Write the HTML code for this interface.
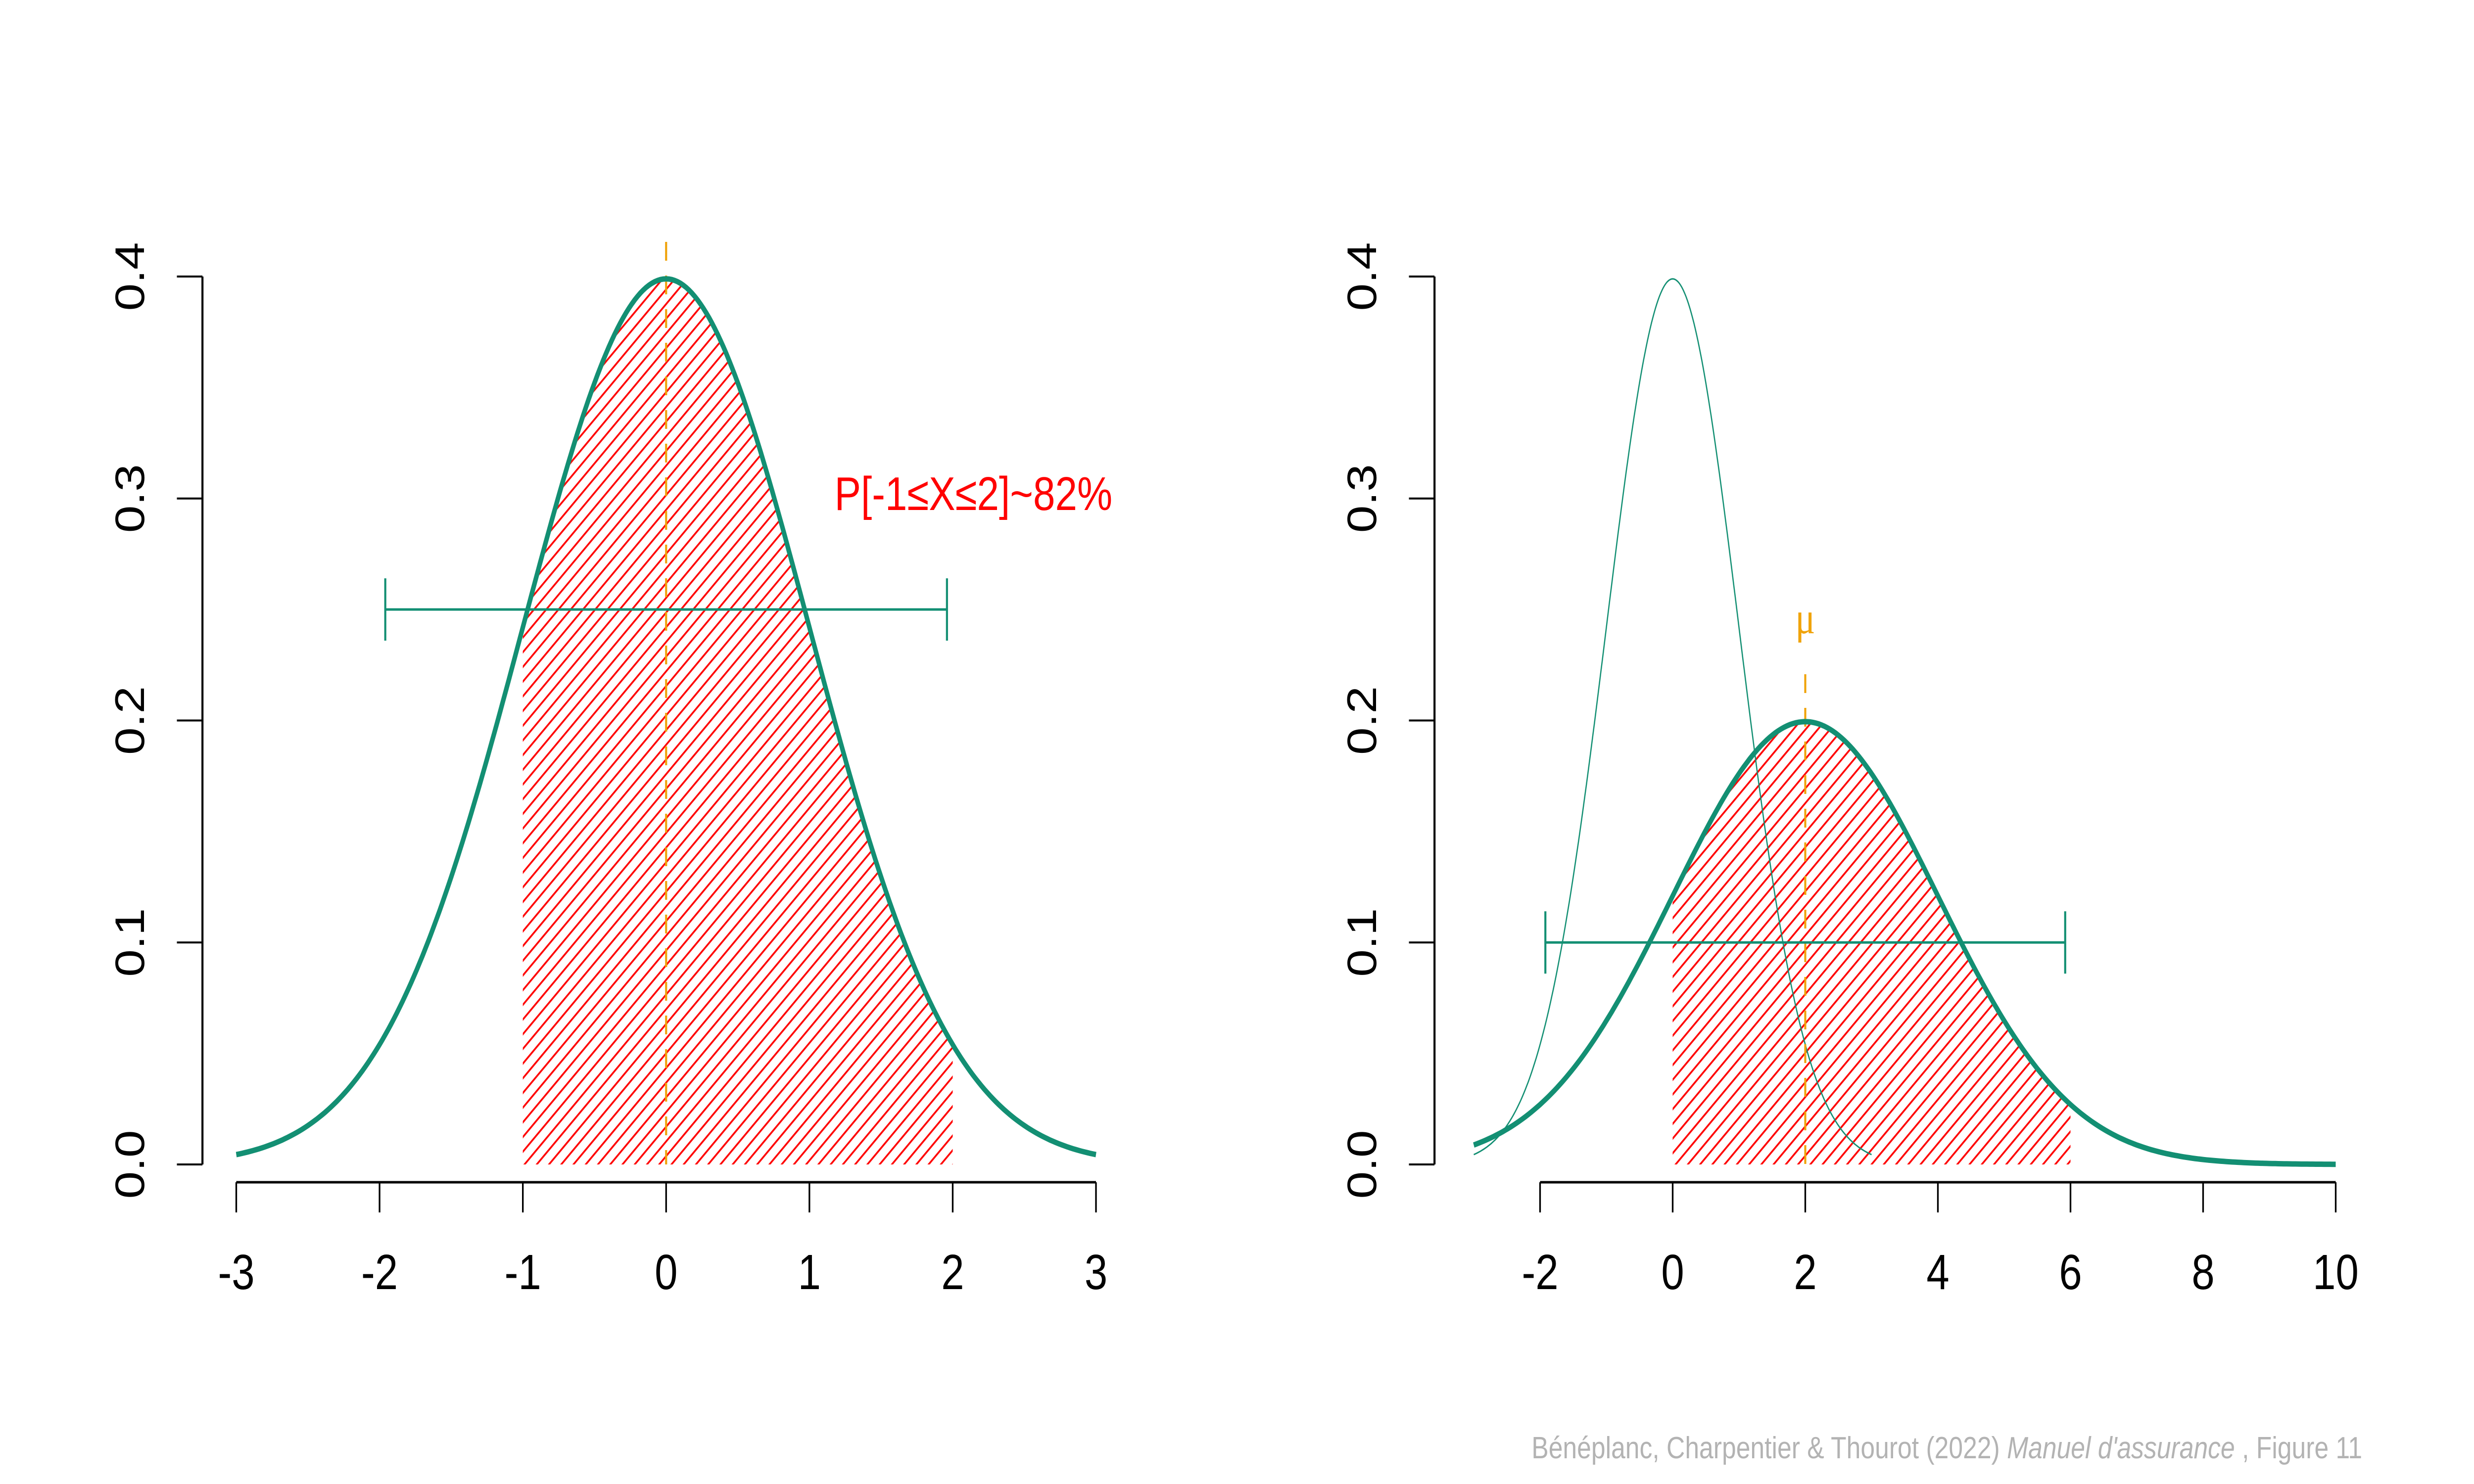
<!DOCTYPE html>
<html><head><meta charset="utf-8"><style>html,body{margin:0;padding:0;background:#fff;width:100%;height:100%;overflow:hidden}svg{display:block;width:100vw;height:100vh}</style></head>
<body>
<svg id="chart" viewBox="0 0 6000 3000" preserveAspectRatio="none" xmlns="http://www.w3.org/2000/svg" font-family="Liberation Sans, sans-serif">
<defs>
<pattern id="hatch" patternUnits="userSpaceOnUse" width="21" height="21" patternTransform="rotate(45)">
<rect width="21" height="21" fill="#fff"/>
<line x1="0" y1="0" x2="0" y2="21" stroke="#ff0000" stroke-width="8"/>
</pattern>
</defs>
<g id="left"></g>
<g id="right"></g>
<text x="5729" y="2948" text-anchor="end" font-size="62" fill="#b3b3b3">Bénéplanc, Charpentier &amp; Thourot (2022) <tspan font-style="italic">Manuel d'assurance</tspan> , Figure 11</text>
</svg>
<script>
const leftXTicks = [-3,-2,-1,0,1,2,3];
const rightXTicks = [-2,0,2,4,6,8,10];
const yTicks = [0.0,0.1,0.2,0.3,0.4];
const yTickLabels = ["0.0","0.1","0.2","0.3","0.4"];
const leftDist = [0,1];
const leftRange = [-3,3];
const leftShade = [-1,2];
const leftBar = [-1.96,1.96,0.25];
const leftProbLabel = "P[-1≤X≤2]~82%";
const rightDist = [2,2];
const rightRange = [-3,10];
const rightRef = [0,1];
const rightRefRange = [-3,3];
const rightShade = [0,6];
const rightBar = [-1.92,5.92,0.1];
const rightMu = 2;

const NS="http://www.w3.org/2000/svg";
const GREEN="#138f73", ORANGE="#f0a30a";
function mk(p,tag,attrs){const e=document.createElementNS(NS,tag);for(const k in attrs)e.setAttribute(k,attrs[k]);p.appendChild(e);return e;}
function pdf(x,mu,sd){return Math.exp(-0.5*((x-mu)/sd)**2)/(sd*Math.sqrt(2*Math.PI));}
const Y=v=>2354-(v/0.4)*(2354-559);

function curvePath(X,mu,sd,a,b){let d="";const n=300;for(let i=0;i<=n;i++){const x=a+(b-a)*i/n;d+=(i?"L":"M")+X(x).toFixed(1)+","+Y(pdf(x,mu,sd)).toFixed(1);}return d;}
function areaPath(X,mu,sd,a,b){return curvePath(X,mu,sd,a,b)+"L"+X(b)+","+Y(0)+"L"+X(a)+","+Y(0)+"Z";}

function axes(g,X,xTicks,yAxisX,xMin,xMax){
  const xa=mk(g,"g",{});
  
  
  mk(xa,"line",{x1:X(xMin),x2:X(xMax),y1:2390,y2:2390,stroke:"#000","stroke-width":5});
  xTicks.forEach(t=>{
    mk(xa,"line",{x1:X(t),x2:X(t),y1:2390,y2:2451,stroke:"#000","stroke-width":4});
    const tx=mk(xa,"text",{x:X(t),y:2606,"text-anchor":"middle","font-size":"100"});
    
    
    tx.textContent=t;
  });
  const ya=mk(g,"g",{});
  
  
  mk(ya,"line",{x1:yAxisX,x2:yAxisX,y1:Y(0),y2:Y(0.4),stroke:"#000","stroke-width":5});
  yTicks.forEach((t,i)=>{
    mk(ya,"line",{x1:yAxisX-62,x2:yAxisX,y1:Y(t),y2:Y(t),stroke:"#000","stroke-width":4});
    const tx=mk(ya,"text",{x:0,y:0,"text-anchor":"middle","font-size":"100",transform:`translate(${yAxisX-142},${Y(t)}) rotate(-90)`});
    
    
    tx.textContent=yTickLabels[i];
  });
}
function errBar(g,X,b){
  const e=mk(g,"g",{stroke:GREEN,"stroke-width":5,fill:"none"});
  
  
  mk(e,"line",{x1:X(b[0]),x2:X(b[1]),y1:Y(b[2]),y2:Y(b[2])});
  mk(e,"line",{x1:X(b[0]),x2:X(b[0]),y1:Y(b[2])-63,y2:Y(b[2])+63});
  mk(e,"line",{x1:X(b[1]),x2:X(b[1]),y1:Y(b[2])-63,y2:Y(b[2])+63});
}

// Left panel
const XL=v=>573+(v+3)*347.5;
const gl=document.getElementById("left");
axes(gl,XL,leftXTicks,491,-3,3);
let a=mk(gl,"path",{d:areaPath(XL,leftDist[0],leftDist[1],leftShade[0],leftShade[1]),fill:"url(#hatch)"});


let ml=mk(gl,"line",{x1:XL(leftDist[0]),x2:XL(leftDist[0]),y1:489,y2:Y(0),stroke:ORANGE,"stroke-width":5,"stroke-dasharray":"38 30"});


let c=mk(gl,"path",{d:curvePath(XL,leftDist[0],leftDist[1],leftRange[0],leftRange[1]),fill:"none",stroke:GREEN,"stroke-width":11});


errBar(gl,XL,leftBar);
let pl=mk(gl,"text",{x:2024,y:1031,"font-size":"96",fill:"#ff0000"});


pl.textContent=leftProbLabel;

// Right panel
const XR=v=>3735+(v+2)*160.8;
const gr=document.getElementById("right");
axes(gr,XR,rightXTicks,3479,-2,10);
a=mk(gr,"path",{d:areaPath(XR,rightDist[0],rightDist[1],rightShade[0],rightShade[1]),fill:"url(#hatch)"});


let rc=mk(gr,"path",{d:curvePath(XR,rightRef[0],rightRef[1],rightRefRange[0],rightRefRange[1]),fill:"none",stroke:GREEN,"stroke-width":3});


ml=mk(gr,"line",{x1:XR(rightMu),x2:XR(rightMu),y1:1363,y2:Y(0),stroke:ORANGE,"stroke-width":5,"stroke-dasharray":"38 30"});


let mu=mk(gr,"text",{x:XR(rightMu),y:1280,"text-anchor":"middle","font-size":"90",fill:ORANGE,"font-family":"Liberation Serif, serif"});


mu.textContent="μ";
c=mk(gr,"path",{d:curvePath(XR,rightDist[0],rightDist[1],rightRange[0],rightRange[1]),fill:"none",stroke:GREEN,"stroke-width":11});


errBar(gr,XR,rightBar);
</script>
</body></html>
